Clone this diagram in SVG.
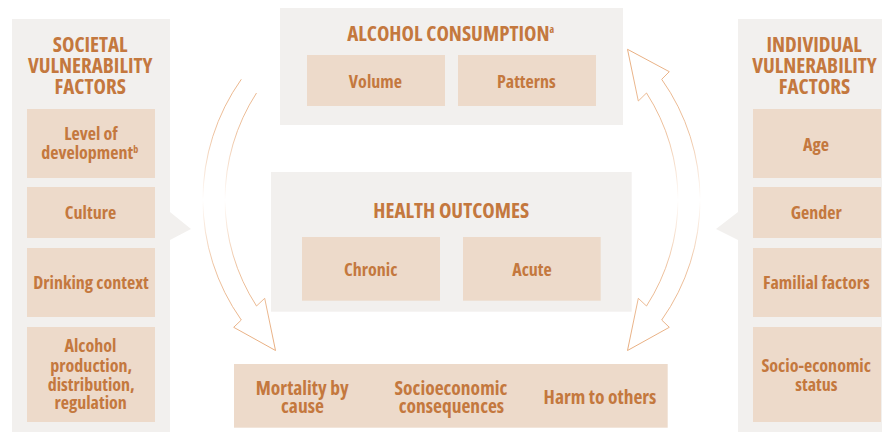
<svg xmlns="http://www.w3.org/2000/svg" width="882" height="432" viewBox="0 0 882 432">
<defs>
<style>
.panel{fill:#F2F0EE}
.box{fill:#EDDACA}
text{font-family:"Open Sans","Roboto Condensed",sans-serif;font-stretch:condensed;font-weight:bold;fill:#C4783E;text-anchor:middle}
.t{font-size:21px}
.l{font-size:18px}
.b{font-size:19.5px}
.sup{font-size:10px}
.arr{fill:none;stroke:url(#fade);stroke-width:1}
</style>
<linearGradient id="fade" gradientUnits="userSpaceOnUse" x1="0" y1="49" x2="0" y2="351">
<stop offset="0" stop-color="#E8AE80" stop-opacity="1"/>
<stop offset="0.28" stop-color="#E8AE80" stop-opacity="0.75"/>
<stop offset="0.5" stop-color="#E8AE80" stop-opacity="0"/>
<stop offset="0.72" stop-color="#E8AE80" stop-opacity="0.75"/>
<stop offset="1" stop-color="#E8AE80" stop-opacity="1"/>
</linearGradient>
</defs>
<rect width="882" height="432" fill="#FFFFFF"/>

<g id="societal">
<rect class="panel" x="12" y="19" width="158" height="413"/>
<polygon class="panel" points="170,212 191,229 170,240"/>
<text class="t"><tspan x="90.2" y="52">SOCIETAL</tspan><tspan x="90.2" y="72.7">VULNERABILITY</tspan><tspan x="90.2" y="94.3">FACTORS</tspan></text>
<g id="s-dev">
<rect class="box" x="27" y="109" width="128" height="69"/>
<text class="l"><tspan x="90.9" y="139.5">Level of</tspan><tspan x="89.7" y="158.5">development<tspan class="sup" dy="-6">b</tspan></tspan></text>
</g>
<g id="s-culture">
<rect class="box" x="27" y="187" width="128" height="51"/>
<text class="l" x="90.5" y="219.3">Culture</text>
</g>
<g id="s-context">
<rect class="box" x="27" y="248" width="128" height="69"/>
<text class="l" x="91" y="288.5">Drinking context</text>
</g>
<g id="s-production">
<rect class="box" x="27" y="327" width="128" height="95"/>
<text class="l"><tspan x="90.5" y="352.3">Alcohol</tspan><tspan x="91.2" y="371.7">production,</tspan><tspan x="91.2" y="390.7">distribution,</tspan><tspan x="90.7" y="409.3">regulation</tspan></text>
</g>
</g>

<g id="individual">
<rect class="panel" x="738" y="19" width="144" height="413"/>
<polygon class="panel" points="738,212 716,229 738,240"/>
<text class="t"><tspan x="814.2" y="52">INDIVIDUAL</tspan><tspan x="814.5" y="72.7">VULNERABILITY</tspan><tspan x="814.5" y="94.3">FACTORS</tspan></text>
<g id="i-age">
<rect class="box" x="753" y="109" width="128" height="69"/>
<text class="l" x="815.9" y="150.7">Age</text>
</g>
<g id="i-gender">
<rect class="box" x="753" y="187" width="128" height="51"/>
<text class="l" x="816.3" y="219.3">Gender</text>
</g>
<g id="i-familial">
<rect class="box" x="753" y="248" width="128" height="69"/>
<text class="l" x="816.4" y="288.5">Familial factors</text>
</g>
<g id="i-ses">
<rect class="box" x="753" y="327" width="128" height="95"/>
<text class="l"><tspan x="816.2" y="371.7">Socio-economic</tspan><tspan x="816.4" y="390.7">status</tspan></text>
</g>
</g>

<g id="consumption">
<rect class="panel" x="280" y="8" width="343" height="117"/>
<text class="t" x="450.7" y="41">ALCOHOL CONSUMPTION<tspan class="sup" dy="-8">a</tspan></text>
<g id="c-volume">
<rect class="box" x="307" y="55" width="138" height="51"/>
<text class="l" x="375.4" y="88.3">Volume</text>
</g>
<g id="c-patterns">
<rect class="box" x="458" y="55" width="138" height="51"/>
<text class="l" x="526.4" y="88.3">Patterns</text>
</g>
</g>

<g id="health">
<rect class="panel" x="271" y="172" width="360.7" height="139.7"/>
<text class="t" x="451.2" y="218.3">HEALTH OUTCOMES</text>
<g id="h-chronic">
<rect class="box" x="302" y="237" width="138" height="63.7"/>
<text class="l" x="370.7" y="275.7">Chronic</text>
</g>
<g id="h-acute">
<rect class="box" x="463" y="237" width="137.7" height="63.7"/>
<text class="l" x="532" y="275.7">Acute</text>
</g>
</g>

<g id="outcomes">
<rect class="box" x="234" y="364" width="433.7" height="63.7"/>
<text class="b"><tspan x="302.2" y="395">Mortality by</tspan><tspan x="302.5" y="412.5">cause</tspan></text>
<text class="b"><tspan x="450.9" y="395">Socioeconomic</tspan><tspan x="451.4" y="412.5">consequences</tspan></text>
<text class="b" x="600" y="404">Harm to others</text>
</g>

<g id="connectors">
<path class="arr" d="M 241.3 79.3 A 208 208 0 0 0 241.3 320 L 233.7 327.3 L 275.5 350.5 L 264.7 298.3 L 256.5 306 A 196 196 0 0 1 256.5 93"/>
<path class="arr" d="M 627.5 49.3 L 669.3 71.7 L 661.7 79.3 A 208 208 0 0 1 661.7 320 L 669.3 327.3 L 627.5 350.5 L 638.3 298.3 L 646.5 306 A 196 196 0 0 0 646.5 93 L 638.3 101 Z"/>
</g>
</svg>
